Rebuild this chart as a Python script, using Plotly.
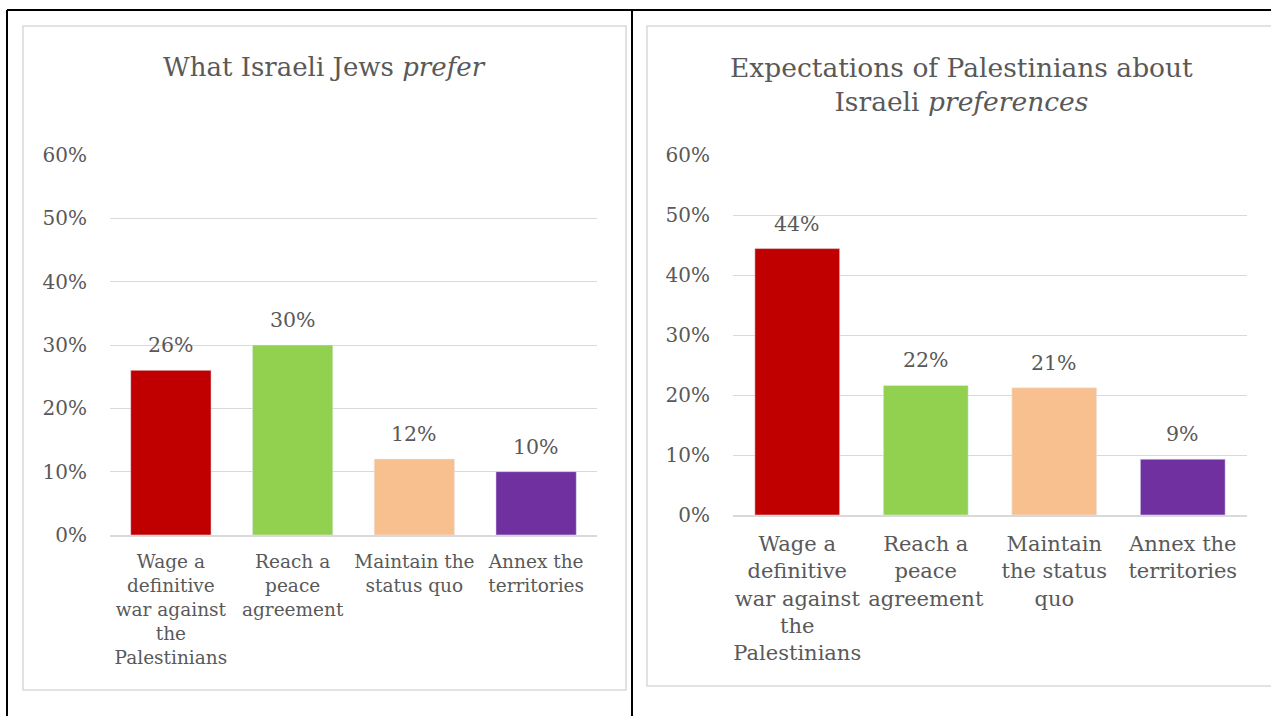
import plotly.graph_objects as go

W, H = 1271, 716

categories_left = ["Wage a<br>definitive<br>war against<br>the<br>Palestinians",
                   "Reach a<br>peace<br>agreement",
                   "Maintain the<br>status quo",
                   "Annex the<br>territories"]
categories_right = ["Wage a<br>definitive<br>war against<br>the<br>Palestinians",
                    "Reach a<br>peace<br>agreement",
                    "Maintain<br>the status<br>quo",
                    "Annex the<br>territories"]
values_left = [0.26, 0.30, 0.12, 0.10]
values_right = [0.444, 0.216, 0.212, 0.093]
bar_colors = ["#C00000", "#92D050", "#F8C08F", "#7030A0"]
y_ticks = [0, 0.1, 0.2, 0.3, 0.4, 0.5, 0.6]
y_ticktext = ["0%", "10%", "20%", "30%", "40%", "50%", "60%"]
title_left = "What Israeli Jews <i>prefer</i>"
title_right = "Expectations of Palestinians about<br>Israeli <i>preferences</i>"

FONT = "DejaVu Serif"
TXT = "#595959"
GRID = "#D9D9D9"


def px(x):
    return x / W


def py(y):
    return 1 - y / H


fig = go.Figure()
fig.add_trace(go.Bar(x=categories_left, y=values_left, marker_color=bar_colors,
                     xaxis="x", yaxis="y", hoverinfo="skip"))
fig.add_trace(go.Bar(x=categories_right, y=values_right, marker_color=bar_colors,
                     xaxis="x2", yaxis="y2", hoverinfo="skip"))

# data labels above bars
for cats, vals, xr, yr in [(categories_left, values_left, "x", "y"),
                           (categories_right, values_right, "x2", "y2")]:
    for c, v in zip(cats, vals):
        fig.add_annotation(x=c, y=v, xref=xr, yref=yr, text=f"{v:.0%}",
                           showarrow=False, yanchor="middle", yshift=25,
                           font=dict(family=FONT, size=20.5, color=TXT))

common_y = dict(range=[0, 0.6], tickvals=y_ticks, ticktext=y_ticktext,
                showgrid=True, gridcolor=GRID, gridwidth=1.3, zeroline=False,
                showline=False, ticks="", ticklabelstandoff=22, automargin=False,
                tickfont=dict(family=FONT, size=20, color=TXT), fixedrange=True)

fig.update_layout(
    width=W, height=H, margin=dict(l=0, r=0, t=0, b=0, pad=0, autoexpand=False),
    paper_bgcolor="white", plot_bgcolor="white", showlegend=False,
    font=dict(family=FONT, color=TXT),
    xaxis=dict(domain=[px(110), px(597)], anchor="y", showline=True, linecolor=GRID,
               linewidth=1.5, ticks="", tickfont=dict(family=FONT, size=18.5, color=TXT),
               ticklabelstandoff=9, fixedrange=True, automargin=False),
    yaxis=dict(domain=[py(535), py(155)], anchor="x", **common_y),
    xaxis2=dict(domain=[px(733), px(1247)], anchor="y2", showline=True, linecolor=GRID,
                linewidth=1.5, ticks="", tickfont=dict(family=FONT, size=21, color=TXT),
                ticklabelstandoff=9, fixedrange=True, automargin=False),
    yaxis2=dict(domain=[py(515), py(155)], anchor="x2", **common_y),
    bargap=0.34,
)

# panel frames
shapes = [
    dict(type="rect", xref="paper", yref="paper", x0=px(23), x1=px(626), y0=py(690), y1=py(26),
         line=dict(color=GRID, width=1.5)),
    dict(type="rect", xref="paper", yref="paper", x0=px(647), x1=px(1280), y0=py(686), y1=py(26),
         line=dict(color=GRID, width=1.5)),
    dict(type="line", xref="paper", yref="paper", x0=px(7), x1=px(1275), y0=py(10), y1=py(10),
         line=dict(color="black", width=2)),
    dict(type="line", xref="paper", yref="paper", x0=px(7), x1=px(7), y0=py(10), y1=py(720),
         line=dict(color="black", width=2)),
    dict(type="line", xref="paper", yref="paper", x0=px(632), x1=px(632), y0=py(10), y1=py(720),
         line=dict(color="black", width=2)),
]
fig.update_layout(shapes=shapes)

fig.add_annotation(text=title_left, xref="paper", yref="paper", x=px(325), y=py(67),
                   showarrow=False, font=dict(family=FONT, size=26, color=TXT),
                   xanchor="center", yanchor="middle")
fig.add_annotation(text=title_right, xref="paper", yref="paper", x=px(961), y=py(85),
                   showarrow=False, font=dict(family=FONT, size=26.5, color=TXT),
                   xanchor="center", yanchor="middle")

fig.write_html("out.html", config={"displayModeBar": False},
               post_script="document.body.style.margin='0';")
